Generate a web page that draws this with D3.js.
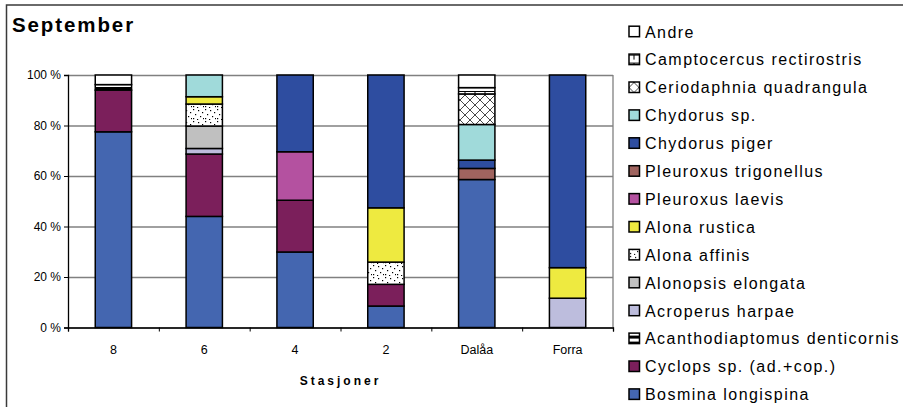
<!DOCTYPE html>
<html>
<head>
<meta charset="utf-8">
<script src="https://cdn.jsdelivr.net/npm/d3@7/dist/d3.min.js"></script>
<style>
  html, body { margin: 0; padding: 0; background: #fff; }
  svg { display: block; font-family: "Liberation Sans", Arial, sans-serif; }
</style>
</head>
<body>
<svg id="chart" width="903" height="407"></svg>
<script>
// Stations along the x axis
const stations = ["8", "6", "4", "2", "Dalåa", "Forra"];

// Species, in stacking order from the bottom of each bar
const species = [
  "Bosmina longispina",
  "Cyclops sp. (ad.+cop.)",
  "Acanthodiaptomus denticornis",
  "Acroperus harpae",
  "Alonopsis elongata",
  "Alona affinis",
  "Alona rustica",
  "Pleuroxus laevis",
  "Pleuroxus trigonellus",
  "Chydorus piger",
  "Chydorus sp.",
  "Ceriodaphnia quadrangula",
  "Camptocercus rectirostris",
  "Andre"
];

// Share (%) of each species per station, same order as `stations`
const bosmina        = [77.5, 44.0, 29.9,  8.5, 58.6,  0.0];
const cyclops        = [16.5, 24.7, 20.5,  8.6,  0.0,  0.0];
const acanthodiapt   = [ 2.2,  0.0,  0.0,  0.0,  0.0,  0.0];
const acroperus      = [ 0.0,  2.2,  0.0,  0.0,  0.0, 11.6];
const alonopsis      = [ 0.0,  8.9,  0.0,  0.0,  0.0,  0.0];
const alonaAffinis   = [ 0.0,  8.7,  0.0,  8.8,  0.0,  0.0];
const alonaRustica   = [ 0.0,  2.9,  0.0, 21.5,  0.0, 12.1];
const pleuroxLaevis  = [ 0.0,  0.0, 19.2,  0.0,  0.0,  0.0];
const pleuroxTrigon  = [ 0.0,  0.0,  0.0,  0.0,  4.4,  0.0];
const chydorusPiger  = [ 0.0,  0.0, 30.4, 52.6,  3.3, 76.3];
const chydorusSp     = [ 0.0,  8.6,  0.0,  0.0, 14.1,  0.0];
const ceriodaphnia   = [ 0.0,  0.0,  0.0,  0.0, 12.1,  0.0];
const camptocercus   = [ 0.0,  0.0,  0.0,  0.0,  2.5,  0.0];
const andre          = [ 3.8,  0.0,  0.0,  0.0,  5.0,  0.0];

const yTicks = [0, 20, 40, 60, 80, 100];

const seriesValues = [
  bosmina, cyclops, acanthodiapt, acroperus, alonopsis, alonaAffinis,
  alonaRustica, pleuroxLaevis, pleuroxTrigon, chydorusPiger, chydorusSp,
  ceriodaphnia, camptocercus, andre
];

// Fill for each species (solid colours or pattern ids)
const fills = {
  "Bosmina longispina": "#4466b0",
  "Cyclops sp. (ad.+cop.)": "#7b1f5b",
  "Acanthodiaptomus denticornis": "url(#pStripe)",
  "Acroperus harpae": "#bdbddd",
  "Alonopsis elongata": "#c0c0c0",
  "Alona affinis": "url(#pDots)",
  "Alona rustica": "#eeea40",
  "Pleuroxus laevis": "#b451a0",
  "Pleuroxus trigonellus": "#a0645f",
  "Chydorus piger": "#2e4da0",
  "Chydorus sp.": "#a0dada",
  "Ceriodaphnia quadrangula": "url(#pLattice)",
  "Camptocercus rectirostris": "url(#pBrick)",
  "Andre": "#ffffff"
};

const table = stations.map((s, i) => {
  const row = { station: s };
  species.forEach((sp, k) => row[sp] = seriesValues[k][i]);
  return row;
});

const svg = d3.select("#chart");

// ---- patterns ----
const defs = svg.append("defs");
const stripe = defs.append("pattern").attr("id", "pStripe")
  .attr("patternUnits", "userSpaceOnUse").attr("width", 8).attr("height", 6);
stripe.append("rect").attr("width", 8).attr("height", 6).attr("fill", "#fff");
stripe.append("rect").attr("y", 3).attr("width", 8).attr("height", 3).attr("fill", "#000");

const dots = defs.append("pattern").attr("id", "pDots")
  .attr("patternUnits", "userSpaceOnUse").attr("width", 12).attr("height", 12);
dots.append("rect").attr("width", 12).attr("height", 12).attr("fill", "#fff");
[[1,1],[6,2],[10,4],[3,6],[8,8],[1,10],[5,11],[11,10]].forEach(([px, py]) =>
  dots.append("rect").attr("x", px).attr("y", py).attr("width", 1.2).attr("height", 1.2).attr("fill", "#000"));

const lattice = defs.append("pattern").attr("id", "pLattice")
  .attr("patternUnits", "userSpaceOnUse").attr("width", 10).attr("height", 10);
lattice.append("rect").attr("width", 10).attr("height", 10).attr("fill", "#fff");
lattice.append("path").attr("d", "M0,0L10,10M10,0L0,10")
  .attr("stroke", "#333").attr("stroke-width", 0.9).attr("fill", "none");

const brick = defs.append("pattern").attr("id", "pBrick")
  .attr("patternUnits", "userSpaceOnUse").attr("width", 10).attr("height", 8);
brick.append("rect").attr("width", 10).attr("height", 8).attr("fill", "#fff");
brick.append("path").attr("d", "M0,3.5L10,3.5M5,3.5L5,8")
  .attr("stroke", "#000").attr("stroke-width", 1).attr("fill", "none");

// ---- outer frame ----
svg.append("rect")
  .attr("x", 6.5).attr("y", 5).attr("width", 910).attr("height", 420)
  .attr("fill", "none").attr("stroke", "#3a3a3a").attr("stroke-width", 1.5);

// ---- title ----
svg.append("text")
  .attr("x", 12).attr("y", 32)
  .attr("font-size", 20.5).attr("font-weight", "bold")
  .attr("letter-spacing", 1.9)
  .attr("fill", "#000")
  .text("September");

// ---- scales ----
const plotLeft = 68, plotRight = 613, plotTop = 75, plotBottom = 327.5;
const x = d3.scaleBand().domain(stations).range([plotLeft, plotRight])
  .paddingInner(0.6).paddingOuter(0.3);
const y = d3.scaleLinear().domain([0, 100]).range([plotBottom, plotTop]);

// gridlines
svg.append("g")
  .attr("transform", `translate(${plotLeft},0)`)
  .call(d3.axisLeft(y).tickValues(yTicks).tickSize(-(plotRight - plotLeft)).tickFormat(""))
  .call(g => g.select(".domain").remove())
  .call(g => g.selectAll("line").attr("stroke", "#808080").attr("stroke-width", 1.3));

// plot-area right border
svg.append("line")
  .attr("x1", plotRight).attr("x2", plotRight).attr("y1", plotTop).attr("y2", plotBottom)
  .attr("stroke", "#808080").attr("stroke-width", 1.3);

// ---- stacked bars ----
const stack = d3.stack().keys(species);
const layers = stack(table);

svg.append("g").selectAll("g")
  .data(layers)
  .join("g")
  .attr("fill", d => fills[d.key])
  .selectAll("rect")
  .data(d => d.filter(p => p[1] - p[0] > 0))
  .join("rect")
  .attr("x", d => x(d.data.station))
  .attr("width", x.bandwidth())
  .attr("y", d => y(d[1]))
  .attr("height", d => y(d[0]) - y(d[1]))
  .attr("stroke", "#000")
  .attr("stroke-width", 1.5);

// ---- y axis ----
svg.append("g")
  .attr("transform", `translate(${plotLeft},0)`)
  .call(d3.axisLeft(y).tickValues(yTicks).tickSize(4).tickPadding(3)
    .tickFormat(d => d + " %"))
  .call(g => g.select(".domain").attr("stroke", "#000").attr("stroke-width", 1.3))
  .call(g => g.selectAll(".tick line").attr("stroke", "#000"))
  .call(g => g.selectAll("text").attr("font-size", 12)
    .attr("font-family", "Liberation Sans, Arial, sans-serif").attr("fill", "#000"));

// ---- x axis: tick marks at category boundaries ----
const xb = d3.scaleLinear().domain([0, stations.length]).range([plotLeft, plotRight]);
svg.append("g")
  .attr("transform", `translate(0,${plotBottom})`)
  .call(d3.axisBottom(xb).tickValues(d3.range(stations.length + 1)).tickSize(4).tickFormat(""))
  .call(g => g.select(".domain").attr("stroke", "#000").attr("stroke-width", 1.3))
  .call(g => g.selectAll(".tick line").attr("stroke", "#000"));

// category labels
svg.append("g")
  .attr("transform", `translate(0,${plotBottom})`)
  .call(d3.axisBottom(x).tickSize(0).tickPadding(18))
  .call(g => g.select(".domain").remove())
  .call(g => g.selectAll("text").attr("font-size", 12.5)
    .attr("font-family", "Liberation Sans, Arial, sans-serif").attr("fill", "#000"));

// x axis title
svg.append("text")
  .attr("x", (plotLeft + plotRight) / 2).attr("y", 385)
  .attr("text-anchor", "middle")
  .attr("font-size", 12).attr("font-weight", "bold")
  .attr("letter-spacing", 3)
  .text("Stasjoner");

// ---- legend (top entry is the top of the stack) ----
const legendItems = species.slice().reverse();
const legend = svg.append("g");
const rows = legend.selectAll("g")
  .data(legendItems)
  .join("g")
  .attr("transform", (d, i) => `translate(629,${31.7 + i * 27.9})`);
rows.append("rect")
  .attr("x", 0).attr("y", -5.5).attr("width", 10.5).attr("height", 10.5)
  .attr("fill", d => fills[d])
  .attr("stroke", "#000").attr("stroke-width", 1.5);
rows.append("text")
  .attr("x", 16).attr("y", 5.8)
  .attr("font-size", 16)
  .attr("letter-spacing", 1.45)
  .attr("fill", "#000")
  .text(d => d);
</script>
</body>
</html>
